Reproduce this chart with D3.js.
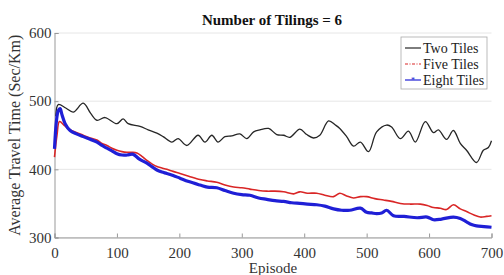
<!DOCTYPE html>
<html><head><meta charset="utf-8">
<script src="https://cdn.jsdelivr.net/npm/d3@7"></script>
<style>body{margin:0;background:#fff}svg{display:block}text{font-family:"Liberation Serif","Times New Roman",serif}</style>
</head><body>
<script>
const title = "Number of Tilings = 6";
const xTicks = [0,100,200,300,400,500,600,700];
const yTicks = [300,400,500,600];
const seriesNames = ["Two Tiles","Five Tiles","Eight Tiles"];

const twoEp = [2,6,18,30,46,58,68,81,100,110,118,137,150,164,174,188,198,212,230,241,252,262,273,284,297,308,319,329,343,356,367,377,393,404,415,425,439,450,457,468,479,490,503,516,532,540,554,567,578,594,607,615,628,639,650,660,676,687,695,700];
const twoVal = [478,495,490,484,497,482,472,476,467,474,467,463,458,453,448,440,445,435,450,440,450,440,448,449,452,445,455,458,460,451,450,447,459,451,446,450,471,465,460,448,434,440,426,455,465,462,445,456,440,470,454,458,444,457,438,428,410,428,432,442];

const fiveEp = [0,4,8,16,25,35,46,57,68,76,84,92,100,108,116,124,132,140,148,156,164,172,180,190,201,215,233,245,260,273,287,300,313,327,340,353,367,383,393,405,420,433,447,457,468,479,490,500,513,527,540,554,570,586,597,607,618,628,639,650,660,672,682,692,700];
const fiveVal = [418,450,470,464,458,454,450,446,443,438,435,431,428,426,425,425,424,419,413,408,404,402,400,397,394,390,385,383,381,377,374,373,371,369,368,368,367,364,367,365,365,362,360,365,361,358,360,360,357,355,353,350,349,349,347,344,343,341,348,342,338,333,330,331,332];

const eightEp = [0,3,6,9,12,17,25,35,46,57,68,76,84,92,100,108,116,126,136,148,156,164,172,180,190,201,215,233,245,260,273,287,300,313,327,340,353,367,380,393,405,420,433,447,460,473,490,500,508,516,524,532,543,560,581,597,607,620,639,650,660,668,676,688,700];
const eightVal = [430,470,486,489,480,467,457,452,448,444,440,435,431,427,423,421,421,422,415,409,404,399,396,394,391,387,382,377,374,373,369,365,363,362,358,356,354,353,351,350,349,348,346,342,340,340,343,337,336,335,336,340,332,331,329,330,326,327,330,328,323,319,317,316,315];

const W = 504, H = 275;
const FONT = '"Liberation Serif","Times New Roman",serif';
const m = {l:54.5, r:12.5, t:33, b:37.5};
const svg = d3.select("body").append("svg").attr("width",W).attr("height",H);
const x = d3.scaleLinear().domain([0,700]).range([m.l, W-m.r]);
const y = d3.scaleLinear().domain([300,600]).range([H-m.b, m.t]);

// grid
svg.append("g").selectAll("line").data(yTicks).join("line")
  .attr("x1",x(0)).attr("x2",x(700)).attr("y1",d=>y(d)).attr("y2",d=>y(d))
  .attr("stroke","#e6e6e6").attr("stroke-width",1);

// axes
const gx = svg.append("g").attr("transform",`translate(0,${y(300)})`)
  .call(d3.axisBottom(x).tickValues(xTicks).tickSize(-4).tickPadding(10).tickFormat(d3.format("d")));
const gy = svg.append("g").attr("transform",`translate(${x(0)},0)`)
  .call(d3.axisLeft(y).tickValues(yTicks).tickSize(-4).tickPadding(3).tickFormat(d3.format("d")));
[gx,gy].forEach(g=>{
  g.attr("font-family",FONT).attr("font-size",15);
  g.select(".domain").attr("stroke","#999");
  g.selectAll(".tick line").attr("stroke","#999");
  g.selectAll(".tick text").attr("fill","#333");
});

const line = d3.line().x(d=>x(d[0])).y(d=>y(d[1])).curve(d3.curveCatmullRom.alpha(0.5));
const mk = (ep,val)=>ep.map((e,i)=>[e,val[i]]);

svg.append("path").datum(mk(twoEp,twoVal)).attr("d",line)
  .attr("fill","none").attr("stroke","#262626").attr("stroke-width",1.3);
svg.append("path").datum(mk(fiveEp,fiveVal)).attr("d",line)
  .attr("fill","none").attr("stroke","#d92626").attr("stroke-width",1.6);
svg.append("path").datum(mk(eightEp,eightVal)).attr("d",line)
  .attr("fill","none").attr("stroke","#1f1fd6").attr("stroke-width",3.2);

// title
svg.append("text").attr("x",272).attr("y",25).attr("text-anchor","middle")
  .style("font-size","15px").style("font-weight","bold").attr("fill","#111").text(title);
// axis labels
svg.append("text").attr("x",273).attr("y",273).attr("text-anchor","middle")
  .style("font-size","15px").attr("fill","#333").text("Episode");
svg.append("text").attr("transform",`translate(20,${(y(300)+y(600))/2}) rotate(-90)`)
  .attr("text-anchor","middle").style("font-size","16px").attr("fill","#333")
  .text("Average Travel Time (Sec/Km)");

// legend
const lg = svg.append("g");
lg.append("rect").attr("x",401).attr("y",37).attr("width",86).attr("height",52)
  .attr("fill","#fff").attr("stroke","#aaa").attr("stroke-width",0.8);
const lcol = ["#262626","#d92626","#1f1fd6"];
const ldash = [null,"3,1.5,1,1.5",null];
seriesNames.forEach((n,i)=>{
  const yy = 48 + i*16;
  lg.append("line").attr("x1",405).attr("x2",421).attr("y1",yy).attr("y2",yy)
    .attr("stroke",lcol[i]).attr("stroke-width",1.2).attr("stroke-dasharray",ldash[i]);
  if(i===2) lg.append("text").attr("x",413).attr("y",yy+3).attr("text-anchor","middle")
    .style("font-size","8px").attr("fill",lcol[i]).text("*");
  lg.append("text").attr("x",423).attr("y",yy+4.5).style("font-size","14px").attr("fill","#222").text(n);
});
</script>
</body></html>
